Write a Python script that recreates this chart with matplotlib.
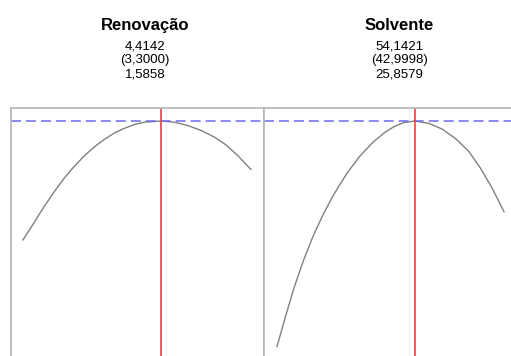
import matplotlib
matplotlib.use("Agg")
import matplotlib.pyplot as plt

plt.rcParams["font.family"] = ["Liberation Sans", "DejaVu Sans"]

# factor settings shown above each panel
factors = ["Renovação", "Solvente"]
upper = ["4,4142", "54,1421"]
current = ["(3,3000)", "(42,9998)"]
lower = ["1,5858", "25,8579"]
current_x = [3.3000, 42.9998]
predicted = 100.0

# profile traces
renov_x = [1.5858, 1.728, 1.852, 1.976, 2.100, 2.224, 2.348, 2.472, 2.596, 2.720, 2.844,
           2.968, 3.092, 3.300, 3.463, 3.628, 3.794, 3.958, 4.103, 4.247, 4.4142]
renov_y = [49.4, 57.0, 63.8, 70.0, 75.8, 80.8, 85.2, 89.0, 92.2, 94.9, 96.9,
           98.5, 99.5, 100.0, 99.5, 98.1, 96.0, 93.2, 89.9, 85.4, 79.4]
solv_x = [25.8579, 26.89, 27.93, 29.17, 30.42, 31.66, 32.91, 34.58, 36.24, 37.89, 39.35,
          40.39, 41.63, 43.0, 44.75, 46.41, 48.07, 49.73, 51.19, 52.65, 54.1421]
solv_y = [4.0, 16.5, 28.5, 40.8, 51.5, 60.6, 68.6, 77.8, 85.3, 91.2, 95.3,
          97.5, 99.3, 100.0, 99.0, 96.6, 92.6, 87.2, 80.0, 71.5, 61.4]

W, H = 511, 356
fig = plt.figure(figsize=(W / 100, H / 100), dpi=100)

border = "#b4b4b4"
top_px = 108
ax1 = fig.add_axes([11 / W, 0, (263.5 - 11) / W, (H - top_px) / H])
ax2 = fig.add_axes([263.5 / W, 0, (W - 263.5) / W, (H - top_px) / H])

ax1.plot(renov_x, renov_y, color="#808080", lw=1.0)
ax2.plot(solv_x, solv_y, color="#808080", lw=1.0)

ax1.set_xlim(1.437, 4.570)
ax2.set_xlim(24.176, 55.01)

for ax, cx in zip([ax1, ax2], current_x):
    ax.set_ylim(0, (H - top_px) / 2.35)
    ax.axhline(predicted, color="#6a6af0", lw=1.1, linestyle=(0, (6.5, 3.3)))
    ax.axvline(cx, color="#f03c3c", lw=1.2)
    ax.set_xticks([])
    ax.set_yticks([])
    for s in ax.spines.values():
        s.set_color(border)
        s.set_linewidth(1.2)
    ax.spines["bottom"].set_visible(False)
ax2.spines["right"].set_visible(False)

title_x = [145, 399]
for i in range(2):
    x = title_x[i] / W
    fig.text(x, 1 - 30 / H, factors[i], ha="center", va="baseline",
             fontsize=12, fontweight="bold")
    fig.text(x, 1 - 49.5 / H, upper[i], ha="center", va="baseline", fontsize=9.5)
    fig.text(x, 1 - 63.5 / H, current[i], ha="center", va="baseline", fontsize=9.5)
    fig.text(x, 1 - 77.5 / H, lower[i], ha="center", va="baseline", fontsize=9.5)

fig.savefig("out.png", dpi=100)
plt.close(fig)
